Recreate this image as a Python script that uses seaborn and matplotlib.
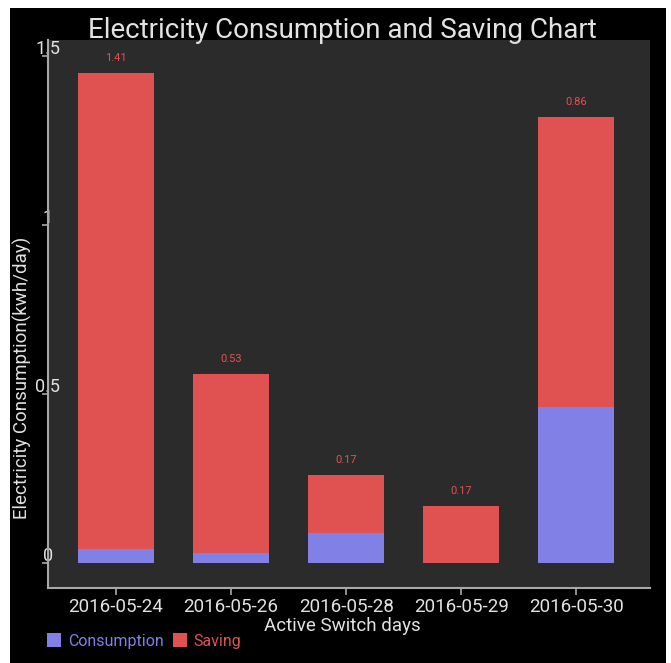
import matplotlib
matplotlib.use("Agg")
import matplotlib.pyplot as plt
import matplotlib.transforms as mtransforms
from matplotlib.patches import Rectangle, Patch
import seaborn as sns
import pandas as pd

days = ["2016-05-24", "2016-05-26", "2016-05-28", "2016-05-29", "2016-05-30"]
consumption = [0.04, 0.03, 0.09, 0.00, 0.46]
saving = [1.41, 0.53, 0.17, 0.17, 0.86]
y_ticks = [0, 0.5, 1, 1.5]
y_tick_labels = ["0", "0.5", "1", "1.5"]

title = "Electricity Consumption and Saving Chart"
x_label = "Active Switch days"
y_label = "Electricity Consumption(kwh/day)"
series_names = ["Consumption", "Saving"]

BLUE = "#8080e6"
RED = "#e05252"
TXT = "#e2e2e2"

sns.set_theme(style="dark")
plt.rcParams["font.family"] = ["Roboto", "DejaVu Sans"]

df = pd.DataFrame({"day": days, "consumption": consumption, "saving": saving})
df["total"] = df["consumption"] + df["saving"]

W, H = 671, 663
fig = plt.figure(figsize=(W / 100, H / 100), dpi=100)
fig.patch.set_facecolor("white")
fig.add_artist(Rectangle((10 / W, 0), 656 / W, 655 / H, transform=fig.transFigure,
                         facecolor="black", edgecolor="none", zorder=0))

ax = fig.add_axes([48 / W, (H - 588) / H, 602 / W, 548 / H])
ax.set_facecolor("#2b2b2b")

sns.barplot(data=df, x="day", y="total", color=RED, saturation=1, width=0.66,
            ax=ax, order=days, zorder=2, linewidth=0, edgecolor="none")
sns.barplot(data=df, x="day", y="consumption", color=BLUE, saturation=1, width=0.66,
            ax=ax, order=days, zorder=3, linewidth=0, edgecolor="none")

for i, (t, s) in enumerate(zip(df["total"], saving)):
    ax.annotate(f"{s:.2f}", (i, t), xytext=(0, 7), textcoords="offset points",
                ha="center", va="bottom", color=RED, fontsize=8, zorder=4)

ax.set_xlim(-0.59, 4.64)
ax.set_ylim(-0.074, 1.547)
ax.set_yticks(y_ticks)
ax.set_yticklabels(y_tick_labels)
ax.grid(False)

for side in ["top", "right"]:
    ax.spines[side].set_visible(False)
for side in ["left", "bottom"]:
    ax.spines[side].set_visible(True)
    ax.spines[side].set_color("#a8a8a8")
    ax.spines[side].set_linewidth(1.5)

ax.tick_params(axis="x", colors="#a8a8a8", length=5, width=1.2, labelcolor=TXT,
               labelsize=13.5, pad=2, bottom=True)
ax.tick_params(axis="y", colors="#a8a8a8", length=4, width=1.2, labelcolor=TXT,
               labelsize=13, pad=-4, left=True)
for lab in ax.get_yticklabels():
    lab.set_horizontalalignment("center")
    lab.set_transform(lab.get_transform() +
                      mtransforms.ScaledTranslation(0, 9 / 100, fig.dpi_scale_trans))

ax.set_xlabel("")
ax.set_ylabel("")
fig.text(342 / W, 1 - 626 / H, x_label, ha="center", va="center", color=TXT, fontsize=13.5)
fig.text(22 / W, 1 - 378 / H, y_label, ha="center", va="center", rotation=90,
         color=TXT, fontsize=13.5)
fig.text(342 / W, 1 - 31 / H, title, ha="center", va="center", color=TXT, fontsize=20)

handles = [Patch(facecolor=BLUE, edgecolor="none"), Patch(facecolor=RED, edgecolor="none")]
fig.legend(handles, series_names, loc="center left", bbox_to_anchor=(47 / W, 1 - 641 / H),
           ncol=2, frameon=False, labelcolor=[BLUE, RED], fontsize=11.5,
           handlelength=0.9, handleheight=0.9, handletextpad=0.4, columnspacing=0.6,
           borderaxespad=0, borderpad=0)

fig.savefig("out.png", dpi=100, facecolor=fig.get_facecolor())
